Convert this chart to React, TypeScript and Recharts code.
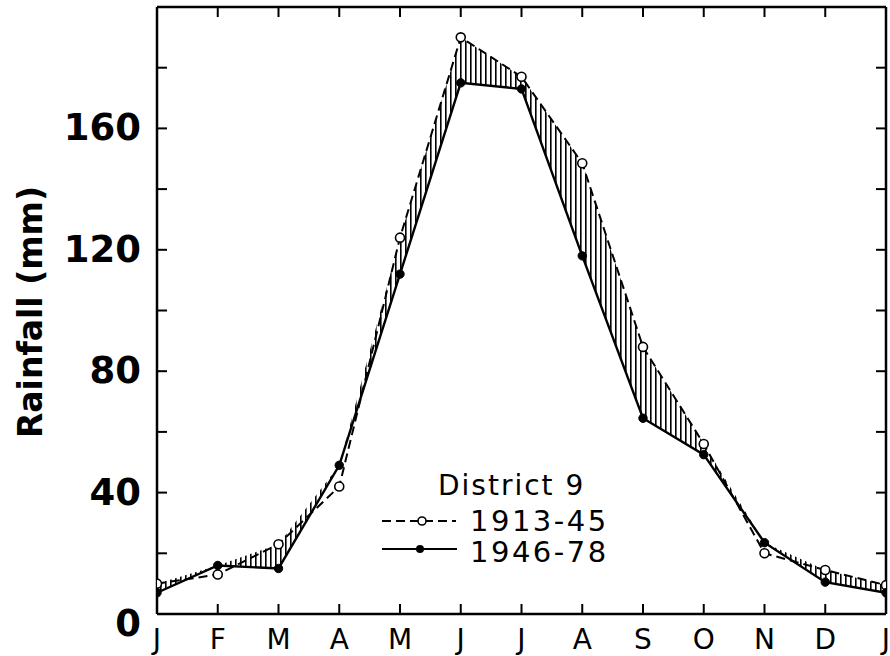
import React from 'react';
import { ComposedChart, Line, Area, XAxis, YAxis } from 'recharts';

const months = ['J', 'F', 'M', 'A', 'M', 'J', 'J', 'A', 'S', 'O', 'N', 'D', 'J'];
const monthIdx = [0, 1, 2, 3, 4, 5, 6, 7, 8, 9, 10, 11, 12];
const rain1913_45 = [10, 13, 23, 42, 124, 190, 177, 148.5, 88, 56, 20, 14.5, 9.5];
const rain1946_78 = [7, 16, 15, 49, 112, 175, 173, 118, 64.5, 52.5, 23.5, 10.5, 7];
const yTicks = [0, 20, 40, 60, 80, 100, 120, 140, 160, 180, 200];
const yLabelValues = [0, 40, 80, 120, 160];
const legendTitle = 'District 9';
const legendNames = ['1913-45', '1946-78'];

const data = monthIdx.map((i) => ({
  idx: i,
  month: months[i],
  p1913: rain1913_45[i],
  p1946: rain1946_78[i],
  hatch: [rain1946_78[i], Math.max(rain1913_45[i], rain1946_78[i])],
}));

const FONT = '"DejaVu Sans", Arial, sans-serif';
const TICK = 10;

const LeftTick = (props: any) => {
  const { x, y, payload } = props;
  const v = payload.value;
  return (
    <g>
      <line x1={x} y1={y} x2={x + TICK} y2={y} stroke="#000" strokeWidth={2} />
      {yLabelValues.includes(v) && (
        <text x={x - 16} y={y + (v === 0 ? 22 : 12)} textAnchor="end" fontFamily={FONT} fontWeight="bold" fontSize={37} fill="#000">
          {v}
        </text>
      )}
    </g>
  );
};

const RightTick = (props: any) => {
  const { x, y } = props;
  return <line x1={x} y1={y} x2={x - TICK} y2={y} stroke="#000" strokeWidth={2} />;
};

const TopTick = (props: any) => {
  const { x, y } = props;
  return <line x1={x} y1={y} x2={x} y2={y + TICK} stroke="#000" strokeWidth={2} />;
};

const BottomTick = (props: any) => {
  const { x, y, payload } = props;
  return (
    <g>
      <line x1={x} y1={y} x2={x} y2={y - TICK} stroke="#000" strokeWidth={2} />
      <text x={x} y={y + 35} textAnchor="middle" fontFamily={FONT} fontSize={28} fill="#000">
        {months[payload.value]}
      </text>
    </g>
  );
};

const OpenDot = (p: any) => {
  if (p.cx == null || p.cy == null) return <g key={`o-${p.index}`} />;
  return <circle key={`o-${p.index}`} cx={p.cx} cy={p.cy} r={4.5} fill="#fff" stroke="#000" strokeWidth={1.6} />;
};

const FilledDot = (p: any) => {
  if (p.cx == null || p.cy == null) return <g key={`f-${p.index}`} />;
  return <circle key={`f-${p.index}`} cx={p.cx} cy={p.cy} r={4.2} fill="#000" stroke="#000" strokeWidth={1} />;
};

const RainLabel = () => (
  <text
    x={42}
    y={312}
    transform="rotate(-90, 42, 312)"
    textAnchor="middle"
    fontFamily={FONT}
    fontWeight="bold"
    fontSize={33}
    fill="#000"
  >
    Rainfall (mm)
  </text>
);

export default function App() {
  return (
    <div style={{ position: 'relative', width: 890, height: 656, background: '#fff' }}>
      <style>{`body{margin:0;overflow:hidden;background:#fff}`}</style>
      <ComposedChart width={890} height={656} data={data} margin={{ top: 0, right: 0, bottom: 0, left: 0 }}>
        <defs>
          <pattern id="vhatch" patternUnits="userSpaceOnUse" width={5} height={10}>
            <rect x={0} y={0} width={1.6} height={10} fill="#000" />
          </pattern>
        </defs>
        <XAxis
          dataKey="idx"
          type="number"
          domain={[0, 12]}
          ticks={monthIdx}
          interval={0}
          height={42}
          tickSize={0}
          tickMargin={0}
          tickLine={false}
          axisLine={{ stroke: '#000', strokeWidth: 2.5 }}
          tick={<BottomTick />}
          allowDataOverflow
        />
        <XAxis
          xAxisId="top"
          orientation="top"
          dataKey="idx"
          type="number"
          domain={[0, 12]}
          ticks={monthIdx}
          interval={0}
          height={7}
          tickSize={0}
          tickMargin={0}
          tickLine={false}
          axisLine={{ stroke: '#000', strokeWidth: 2.5 }}
          tick={<TopTick />}
          allowDataOverflow
        />
        <YAxis
          type="number"
          domain={[0, 200]}
          ticks={yTicks}
          interval={0}
          width={157}
          tickSize={0}
          tickMargin={0}
          tickLine={false}
          axisLine={{ stroke: '#000', strokeWidth: 2.5 }}
          tick={<LeftTick />}
          label={<RainLabel />}
          allowDataOverflow
        />
        <YAxis
          yAxisId="right"
          orientation="right"
          type="number"
          domain={[0, 200]}
          ticks={yTicks}
          interval={0}
          width={4}
          tickSize={0}
          tickMargin={0}
          tickLine={false}
          axisLine={{ stroke: '#000', strokeWidth: 2.5 }}
          tick={<RightTick />}
          allowDataOverflow
        />
        <Area
          type="linear"
          dataKey="hatch"
          stroke="none"
          fill="url(#vhatch)"
          fillOpacity={1}
          isAnimationActive={false}
          activeDot={false}
        />
        <Line
          type="linear"
          dataKey="p1913"
          stroke="#000"
          strokeWidth={2}
          strokeDasharray="9 5"
          dot={OpenDot}
          activeDot={false}
          isAnimationActive={false}
        />
        <Line
          type="linear"
          dataKey="p1946"
          stroke="#000"
          strokeWidth={2.4}
          dot={FilledDot}
          activeDot={false}
          isAnimationActive={false}
        />
      </ComposedChart>
      <svg
        width={250}
        height={115}
        style={{ position: 'absolute', left: 370, top: 460, overflow: 'visible' }}
      >
        <text x={68} y={35} fontFamily={FONT} fontSize={28} letterSpacing={2} fill="#000">
          {legendTitle}
        </text>
        <line x1={12} y1={61} x2={86} y2={61} stroke="#000" strokeWidth={2} strokeDasharray="9 5" />
        <circle cx={52} cy={61} r={4} fill="#fff" stroke="#000" strokeWidth={1.6} />
        <text x={100} y={71} fontFamily={FONT} fontSize={29} letterSpacing={2.5} fill="#000">
          {legendNames[0]}
        </text>
        <line x1={12} y1={89} x2={87} y2={89} stroke="#000" strokeWidth={2.2} />
        <circle cx={50} cy={89} r={4} fill="#000" />
        <text x={100} y={102} fontFamily={FONT} fontSize={29} letterSpacing={2.5} fill="#000">
          {legendNames[1]}
        </text>
      </svg>
    </div>
  );
}
